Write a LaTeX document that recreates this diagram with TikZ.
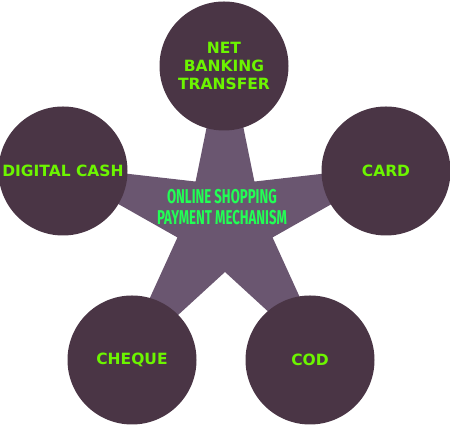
\documentclass[tikz,border=0pt]{standalone}
\usepackage{fontspec}
\usetikzlibrary{calc}
\newfontfamily\labelfont{DejaVu Sans}
\newfontfamily\hubfont[FakeStretch=0.66]{Fira Sans}
\definecolor{circlefill}{HTML}{4A3545}
\definecolor{starfill}{HTML}{6A5670}
\definecolor{labelgreen}{HTML}{6CF500}
\definecolor{hubgreen}{HTML}{22FF55}
\tikzstyle{mode}=[circle,fill=circlefill,minimum size=129pt,inner sep=0pt,align=center,
  text=labelgreen,font=\labelfont\bfseries\fontsize{15.5}{18}\selectfont]
\tikzstyle{hub}=[align=center,text=hubgreen,font=\hubfont\bfseries\fontsize{20}{20.5}\selectfont]
\newcommand{\drawStar}[3]{
\pgfmathsetmacro{\outr}{#2}
\pgfmathsetmacro{\innr}{#3}
\fill[starfill,shift={#1}] (90:\outr)
  \foreach \a in {0,72,...,288} { -- (126+\a:\innr) -- (162+\a:\outr) } -- cycle;
}

\begin{document}
\begin{tikzpicture}[x=1pt,y=1pt]
	\useasboundingbox (0,0) rectangle (450,427);
	\drawStar{(225,205)}{185}{50}
	% the five payment modes
	\node[mode] (net) at (224,361) {NET\\BANKING\\TRANSFER};
	\node[mode] (cash) at (63,256) {DIGITAL CASH};
	\node[mode] (card) at (386,256) {CARD};
	\node[mode] (cheque) at (132,67) {CHEQUE};
	\node[mode] (cod) at (310,67) {COD};
	\node[hub] (mech) at (222,220) {ONLINE SHOPPING\\PAYMENT MECHANISM};
\end{tikzpicture}
\end{document}
